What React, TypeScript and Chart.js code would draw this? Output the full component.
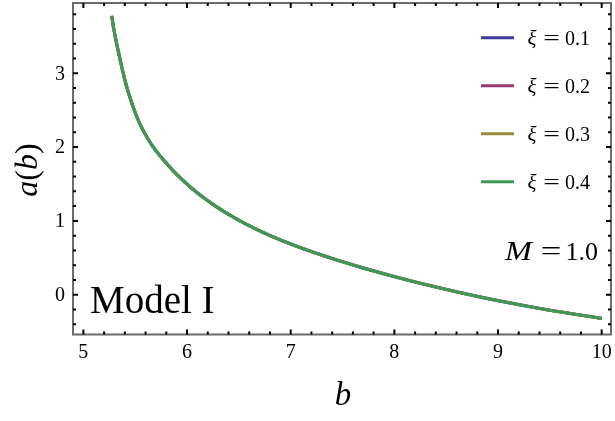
import React, { useEffect, useRef } from "react";
import { Chart, registerables } from "chart.js";
Chart.register(...registerables);

// ---- data ----
const bValues = [5.274, 5.29, 5.31, 5.34, 5.38, 5.42, 5.47, 5.52, 5.573, 5.63, 5.69, 5.78, 5.87, 5.96, 6.06, 6.17, 6.29, 6.43, 6.575, 6.8, 7.09, 7.4, 7.67, 8.0, 8.25, 8.6, 9.0, 9.5, 10.0];
const aXi01 = [3.78, 3.635, 3.485, 3.285, 3.035, 2.813, 2.592, 2.401, 2.24, 2.099, 1.973, 1.817, 1.676, 1.552, 1.427, 1.306, 1.187, 1.067, 0.954, 0.802, 0.64, 0.491, 0.375, 0.246, 0.156, 0.04, -0.08, -0.21, -0.32];
const aXi02 = [3.777, 3.63, 3.48, 3.28, 3.03, 2.809, 2.588, 2.397, 2.237, 2.096, 1.97, 1.815, 1.674, 1.55, 1.425, 1.304, 1.186, 1.066, 0.953, 0.801, 0.639, 0.49, 0.374, 0.245, 0.155, 0.039, -0.081, -0.211, -0.321];
const aXi03 = [3.773, 3.625, 3.475, 3.275, 3.025, 2.805, 2.584, 2.394, 2.234, 2.093, 1.968, 1.813, 1.672, 1.548, 1.424, 1.303, 1.185, 1.065, 0.952, 0.8, 0.638, 0.489, 0.373, 0.244, 0.154, 0.038, -0.082, -0.212, -0.322];
const aXi04 = [3.77, 3.62, 3.47, 3.27, 3.02, 2.8, 2.58, 2.39, 2.23, 2.09, 1.965, 1.81, 1.67, 1.546, 1.422, 1.301, 1.183, 1.063, 0.95, 0.799, 0.637, 0.488, 0.372, 0.243, 0.153, 0.037, -0.083, -0.213, -0.323];
const xiLabels = ["0.1", "0.2", "0.3", "0.4"];
const xTickValues = [5, 6, 7, 8, 9, 10];
const yTickValues = [0, 1, 2, 3];
const xTitle = "b";
const modelLabel = "Model I";
const massLabel = "1.0";

// ---- styles ----
const COLORS = ["#3D3D99", "#993D71", "#998B3D", "#3D9954"];
const SERIF = "'Liberation Serif', 'DejaVu Serif', serif";

function drawWideEquals(ctx: CanvasRenderingContext2D, cx: number, y: number, size: number, stretch: number) {
  ctx.save();
  ctx.font = `${size}px ${SERIF}`;
  ctx.textAlign = "center";
  ctx.textBaseline = "alphabetic";
  ctx.translate(cx, y);
  ctx.scale(stretch, 1);
  ctx.fillText("=", 0, 0);
  ctx.restore();
}

const overlayPlugin = {
  id: "overlay",
  afterDraw(chart: any) {
    const ctx = chart.ctx as CanvasRenderingContext2D;
    const { left, right, top, bottom } = chart.chartArea;
    const xs = chart.scales.x;
    const ys = chart.scales.y;
    ctx.save();

    // frame
    ctx.strokeStyle = "#6b6b6b";
    ctx.lineWidth = 2;
    ctx.strokeRect(left, top, right - left, bottom - top);

    // ticks
    ctx.strokeStyle = "#000";
    ctx.lineWidth = 2;
    const major = 5;
    const minor = 3;
    const drawX = (v: number, len: number) => {
      const px = xs.getPixelForValue(v);
      ctx.beginPath();
      ctx.moveTo(px, bottom);
      ctx.lineTo(px, bottom - len);
      ctx.moveTo(px, top);
      ctx.lineTo(px, top + len);
      ctx.stroke();
    };
    const drawY = (v: number, len: number) => {
      const py = ys.getPixelForValue(v);
      ctx.beginPath();
      ctx.moveTo(left, py);
      ctx.lineTo(left + len, py);
      ctx.moveTo(right, py);
      ctx.lineTo(right - len, py);
      ctx.stroke();
    };
    for (let k = Math.ceil(xs.min / 0.2); k * 0.2 <= xs.max; k++) {
      const v = k * 0.2;
      const isMajor = Math.abs(v - Math.round(v)) < 1e-6;
      drawX(v, isMajor ? major : minor);
    }
    for (let k = Math.ceil(ys.min / 0.2); k * 0.2 <= ys.max; k++) {
      const v = k * 0.2;
      const isMajor = Math.abs(v - Math.round(v)) < 1e-6;
      drawY(v, isMajor ? major : minor);
    }

    // tick labels
    ctx.fillStyle = "#000";
    ctx.font = `20px ${SERIF}`;
    ctx.textAlign = "center";
    ctx.textBaseline = "alphabetic";
    xTickValues.forEach((v) => {
      ctx.fillText(String(v), xs.getPixelForValue(v), bottom + 23);
    });
    ctx.textAlign = "right";
    ctx.textBaseline = "middle";
    yTickValues.forEach((v) => {
      ctx.fillText(String(v), left - 8, ys.getPixelForValue(v) + 1);
    });

    // axis titles
    ctx.textBaseline = "alphabetic";
    ctx.textAlign = "center";
    ctx.font = `italic 33px ${SERIF}`;
    ctx.fillText(xTitle, 343, 405);

    ctx.save();
    ctx.translate(37, 170);
    ctx.rotate(-Math.PI / 2);
    const parts: [string, boolean][] = [["a", true], ["(", false], ["b", true], [")", false]];
    const fontFor = (it: boolean) => `${it ? "italic " : ""}32px ${SERIF}`;
    let total = 0;
    parts.forEach(([t, it]) => {
      ctx.font = fontFor(it);
      total += ctx.measureText(t).width;
    });
    let cx = -total / 2;
    ctx.textAlign = "left";
    parts.forEach(([t, it]) => {
      ctx.font = fontFor(it);
      ctx.fillText(t, cx, 0);
      cx += ctx.measureText(t).width;
    });
    ctx.restore();

    // legend
    chart.data.datasets.forEach((ds: any, i: number) => {
      const y = 37.7 + i * 48;
      ctx.strokeStyle = ds.borderColor;
      ctx.lineWidth = 3;
      ctx.beginPath();
      ctx.moveTo(481, y);
      ctx.lineTo(514, y);
      ctx.stroke();
      ctx.fillStyle = "#000";
      ctx.textBaseline = "alphabetic";
      ctx.font = `italic 21px ${SERIF}`;
      ctx.textAlign = "left";
      ctx.fillText("ξ", 527.5, y + 7);
      drawWideEquals(ctx, 551.5, y + 7, 21, 1.4);
      ctx.font = `20px ${SERIF}`;
      ctx.textAlign = "right";
      ctx.fillText(xiLabels[i], 590, y + 7);
    });

    // M = 1.0
    ctx.save();
    ctx.font = `italic 27px ${SERIF}`;
    ctx.textAlign = "left";
    ctx.translate(505, 260);
    ctx.scale(1.2, 1);
    ctx.fillText("M", 0, 0);
    ctx.restore();
    drawWideEquals(ctx, 551, 260, 27, 1.35);
    ctx.font = `26px ${SERIF}`;
    ctx.textAlign = "right";
    ctx.fillText(massLabel, 598, 260);

    // Model I
    ctx.font = `39px ${SERIF}`;
    ctx.textAlign = "left";
    ctx.fillText(modelLabel, 90, 313);

    ctx.restore();
  },
};

export default function App() {
  const ref = useRef<HTMLCanvasElement | null>(null);
  useEffect(() => {
    document.body.style.margin = "0";
    const series = [aXi01, aXi02, aXi03, aXi04];
    const chart = new Chart(ref.current as HTMLCanvasElement, {
      type: "line",
      data: {
        datasets: series.map((s, i) => ({
          label: "ξ = " + xiLabels[i],
          data: bValues.map((b, j) => ({ x: b, y: s[j] })),
          borderColor: COLORS[i],
          backgroundColor: COLORS[i],
          borderWidth: 3,
          pointRadius: 0,
          fill: false,
          cubicInterpolationMode: "monotone",
          order: 4 - i,
        })),
      },
      options: {
        animation: false,
        responsive: true,
        maintainAspectRatio: false,
        layout: { padding: { top: 3, right: 4, left: 0, bottom: 0 } },
        plugins: { legend: { display: false }, tooltip: { enabled: false } },
        scales: {
          x: {
            type: "linear",
            min: 4.9,
            max: 10.09,
            grid: { display: false, drawTicks: false },
            border: { display: false },
            ticks: { display: false },
            afterFit: (s: any) => {
              s.height = 86.5;
            },
          },
          y: {
            type: "linear",
            min: -0.54,
            max: 3.953,
            grid: { display: false, drawTicks: false },
            border: { display: false },
            ticks: { display: false },
            afterFit: (s: any) => {
              s.width = 73;
            },
          },
        },
      },
      plugins: [overlayPlugin],
    } as any);
    return () => chart.destroy();
  }, []);
  return (
    <div style={{ position: "relative", width: 615, height: 421 }}>
      <canvas ref={ref} />
    </div>
  );
}
